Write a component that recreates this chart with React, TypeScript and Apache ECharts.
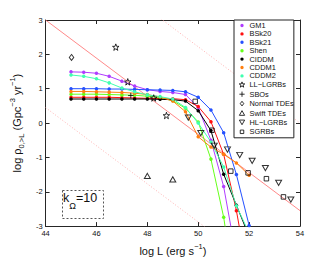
import React, { useEffect, useRef } from "react";
import * as echarts from "echarts";

// log L grid of the model curves
const logL = [45, 45.5, 46, 46.5, 47, 47.5, 48, 48.5, 49, 49.5, 50, 50.5, 51, 51.5, 52];

const gm1 = [1.49, 1.48, 1.45, 1.36, 1.22, 1.08, 0.97, 0.92, 0.89, 0.83, 0.45, -0.5, -1.85, -3.9];
const bsk20 = [0.75, 0.75, 0.75, 0.75, 0.74, 0.73, 0.72, 0.71, 0.71, 0.68, 0.48, 0.04, -0.91, -2.55, -4.6];
const bsk21 = [1.0, 1.0, 1.0, 0.99, 0.99, 0.98, 0.97, 0.96, 0.95, 0.91, 0.75, 0.38, -0.28, -1.5, -2.98];
const shen = [0.84, 0.84, 0.84, 0.83, 0.82, 0.81, 0.78, 0.74, 0.65, 0.43, 0.03, -1.05, -2.74, -5.2];
const ciddm = [0.7, 0.7, 0.7, 0.7, 0.7, 0.7, 0.7, 0.69, 0.68, 0.64, 0.36, -0.22, -1.49, -2.39, -3.3];
const cddm1 = [0.92, 0.92, 0.91, 0.9, 0.89, 0.87, 0.83, 0.76, 0.64, 0.33, -0.4, -0.7, -0.91, -1.16, -1.52];
const cddm2 = [1.4, 1.36, 1.29, 1.17, 1.02, 0.91, 0.82, 0.77, 0.7, 0.45, 0.0, -0.55, -1.28, -2.41, -3.2];

// observations
const llLgrbL = [46.76, 47.23, 48.25, 48.75];
const llLgrbRho = [2.21, 1.2, 0.73, 0.22];
const sboL = [47.35];
const sboRho = [0.8];
const normalTdeL = [45.02];
const normalTdeRho = [1.91];
const swiftTdeL = [48.0, 49.0];
const swiftTdeRho = [-1.54, -1.64];
const hlLgrbL = [49.61, 50.1, 50.63, 51.15, 51.63, 52.12, 52.64, 53.16, 53.64];
const hlLgrbRho = [0.16, -0.29, -0.66, -0.77, -0.93, -1.1, -1.31, -1.74, -2.23];
const sgrbL = [49.88, 50.54, 51.28, 51.96, 52.68, 53.35];
const sgrbRho = [0.63, -0.21, -1.4, -1.45, -1.62, -2.15];

// straight reference lines
const fitL = [44, 54];
const fitMain = [3.0, -2.55];
const fitUpper = [5.55, 0.0];
const fitLower = [0.45, -5.1];

const xTicks = { min: 44, max: 54, interval: 2 };
const yTicks = { min: -3, max: 3, interval: 1 };

const zip = (xs: number[], ys: number[]) => ys.map((y, i) => [xs[i], y]);

const FONT = "'Liberation Sans', Arial, Helvetica, sans-serif";
const dotIcon = "path://M0,0M10,10M2.6,5a2.4,2.4 0 1,0 4.8,0a2.4,2.4 0 1,0 -4.8,0z";
const starPath =
  "path://M5,0L6.18,3.38L9.76,3.45L6.9,5.62L7.94,9.05L5,7L2.06,9.05L3.1,5.62L0.24,3.45L3.82,3.38Z";
const plusPath = "path://M5,0L5,10M0,5L10,5";
const diamondPath = "path://M5,0L8.5,5L5,10L1.5,5Z";
const triUpPath = "path://M5,0L10,9L0,9Z";
const triDownPath = "path://M0,0L10,0L5,9Z";
const squarePath = "path://M0,0L10,0L10,10L0,10Z";

// legend icons with a little empty margin so they draw smaller than the item box
const starIcon = "path://M-1,-1M11,11M5,0L6.18,3.38L9.76,3.45L6.9,5.62L7.94,9.05L5,7L2.06,9.05L3.1,5.62L0.24,3.45L3.82,3.38Z";
const plusIcon = "path://M-1,-1M11,11M5,0.5L5,9.5M0.5,5L9.5,5";
const diamondIcon = "path://M-1,-1M11,11M5,1L8,5L5,9L2,5Z";
const triUpIcon = "path://M-1,-1M11,11M5,1L9.5,9L0.5,9Z";
const triDownIcon = "path://M-1,-1M11,11M0.5,1L9.5,1L5,9Z";
const squareIcon = "path://M-1,-1M11,11M2,2L8,2L8,8L2,8Z";

const models = [
  { name: "GM1", data: gm1, color: "#b03cff" },
  { name: "BSk20", data: bsk20, color: "#ff1010" },
  { name: "BSk21", data: bsk21, color: "#2450ff" },
  { name: "Shen", data: shen, color: "#66ff1a" },
  { name: "CIDDM", data: ciddm, color: "#000000" },
  { name: "CDDM1", data: cddm1, color: "#ff7f10" },
  { name: "CDDM2", data: cddm2, color: "#40ffb0" },
];

const obs = [
  { name: "LL−LGRBs", xs: llLgrbL, ys: llLgrbRho, symbol: starPath, icon: starIcon, size: 6.5 },
  { name: "SBOs", xs: sboL, ys: sboRho, symbol: plusPath, icon: plusIcon, size: 5.5 },
  { name: "Normal TDEs", xs: normalTdeL, ys: normalTdeRho, symbol: diamondPath, icon: diamondIcon, size: [4.5, 6] },
  { name: "Swift TDEs", xs: swiftTdeL, ys: swiftTdeRho, symbol: triUpPath, icon: triUpIcon, size: [6, 5.2] },
  { name: "HL−LGRBs", xs: hlLgrbL, ys: hlLgrbRho, symbol: triDownPath, icon: triDownIcon, size: [6, 5.2] },
  { name: "SGRBs", xs: sgrbL, ys: sgrbRho, symbol: squarePath, icon: squareIcon, size: 4.5 },
];

export default function App() {
  const ref = useRef<HTMLDivElement>(null);
  useEffect(() => {
    if (!ref.current) return;
    const chart = echarts.init(ref.current, undefined, { renderer: "svg" });
    const axisColor = "#262626";
    const hollow = { color: "rgba(0,0,0,0)", borderColor: "#000", borderWidth: 1 };

    const series: any[] = [];
    series.push(
      {
        type: "line",
        data: zip(fitL, fitMain),
        symbol: "none",
        silent: true,
        z: 1,
        lineStyle: { color: "#ff6b6b", width: 0.8 },
      },
      {
        type: "line",
        data: zip(fitL, fitUpper),
        symbol: "none",
        silent: true,
        z: 1,
        lineStyle: { color: "#ffa0a0", width: 0.8, type: [1, 2] },
      },
      {
        type: "line",
        data: zip(fitL, fitLower),
        symbol: "none",
        silent: true,
        z: 1,
        lineStyle: { color: "#ffa0a0", width: 0.8, type: [1, 2] },
      }
    );
    models.forEach((m) =>
      series.push({
        type: "line",
        name: m.name,
        data: zip(logL, m.data),
        symbol: "circle",
        symbolSize: 3.5,
        z: 3,
        lineStyle: { color: m.color, width: 1 },
        itemStyle: { color: m.color },
      })
    );
    obs.forEach((o) =>
      series.push({
        type: "scatter",
        name: o.name,
        data: zip(o.xs, o.ys),
        symbol: o.symbol,
        symbolSize: o.size,
        z: 4,
        itemStyle: hollow,
      })
    );

    const legendData = [
      ...models.map((m) => ({ name: m.name, icon: dotIcon, itemStyle: { color: m.color, borderWidth: 0 } })),
      ...obs.map((o) => ({ name: o.name, icon: o.icon, itemStyle: { ...hollow } })),
    ];

    const axisCommon = {
      type: "value",
      axisLine: { show: true, onZero: false, lineStyle: { color: axisColor, width: 1 } },
      axisTick: { show: true, inside: true, length: 4, lineStyle: { color: axisColor } },
      splitLine: { show: false },
    };

    chart.setOption({
      animation: false,
      backgroundColor: "#fff",
      textStyle: { fontFamily: FONT },
      grid: { left: 43, top: 20, right: 32, bottom: 28, containLabel: false },
      xAxis: [
        {
          ...axisCommon,
          position: "bottom",
          ...xTicks,
          axisLabel: { fontSize: 7.5, color: "#111", margin: 3, fontFamily: FONT },
          name: "{m|log L (erg s}{sup|−1}{m|)}",
          nameLocation: "middle",
          nameGap: 9,
          nameTextStyle: {
            color: "#111",
            fontFamily: FONT,
            rich: {
              m: { fontSize: 11, verticalAlign: "top", padding: [3, 0, 0, 0], color: "#111", fontFamily: FONT },
              sup: { fontSize: 7.5, verticalAlign: "top", color: "#111", fontFamily: FONT },
            },
          },
        },
        {
          ...axisCommon,
          position: "top",
          ...xTicks,
          axisLabel: { show: false },
        },
      ],
      yAxis: [
        {
          ...axisCommon,
          position: "left",
          ...yTicks,
          axisLabel: { fontSize: 7.5, color: "#111", margin: 3, fontFamily: FONT },
          name: "{m|log ρ}{sub|0,>L}{m| (Gpc}{sup|−3}{m| yr}{sup|−1}{m|)}",
          nameLocation: "middle",
          nameRotate: 90,
          nameGap: 12,
          nameTextStyle: {
            color: "#111",
            fontFamily: FONT,
            rich: {
              m: { fontSize: 11, verticalAlign: "top", padding: [3, 0, 0, 0], color: "#111", fontFamily: FONT },
              sub: { fontSize: 7.5, verticalAlign: "top", padding: [9, 0, 0, 0], color: "#111", fontFamily: FONT },
              sup: { fontSize: 7.5, verticalAlign: "top", color: "#111", fontFamily: FONT },
            },
          },
        },
        {
          ...axisCommon,
          position: "right",
          ...yTicks,
          axisLabel: { show: false },
        },
      ],
      legend: {
        orient: "vertical",
        left: 234,
        top: 20,
        padding: [2, 0, 2, 4],
        itemWidth: 7,
        itemHeight: 7,
        itemGap: 1.4,
        selectedMode: false,
        backgroundColor: "#fff",
        borderColor: "#222",
        borderWidth: 1,
        borderRadius: 0,
        textStyle: { fontSize: 7.4, color: "#111", fontFamily: FONT, padding: [0, 0, 0, -1] },
        data: legendData,
      },
      graphic: [
        {
          type: "rect",
          left: 60,
          top: 188,
          shape: { width: 41, height: 28 },
          style: { fill: "none", stroke: "#555", lineWidth: 1, lineDash: [2, 2] },
          z: 10,
        },
        {
          type: "text",
          left: 63,
          top: 191,
          z: 10,
          style: {
            text: "{a|k}{b|Ω}{a|=10}",
            rich: {
              a: { fontSize: 12.5, verticalAlign: "top", fill: "#111", fontFamily: FONT },
              b: { fontSize: 9, verticalAlign: "top", padding: [10, 0, 0, 0], fill: "#111", fontFamily: FONT },
            },
          },
        },
      ],
      series,
    });
    return () => chart.dispose();
  }, []);
  return (
    <div
      ref={ref}
      style={{ position: "fixed", left: 0, top: 0, width: 332, height: 261, background: "#fff" }}
    />
  );
}
